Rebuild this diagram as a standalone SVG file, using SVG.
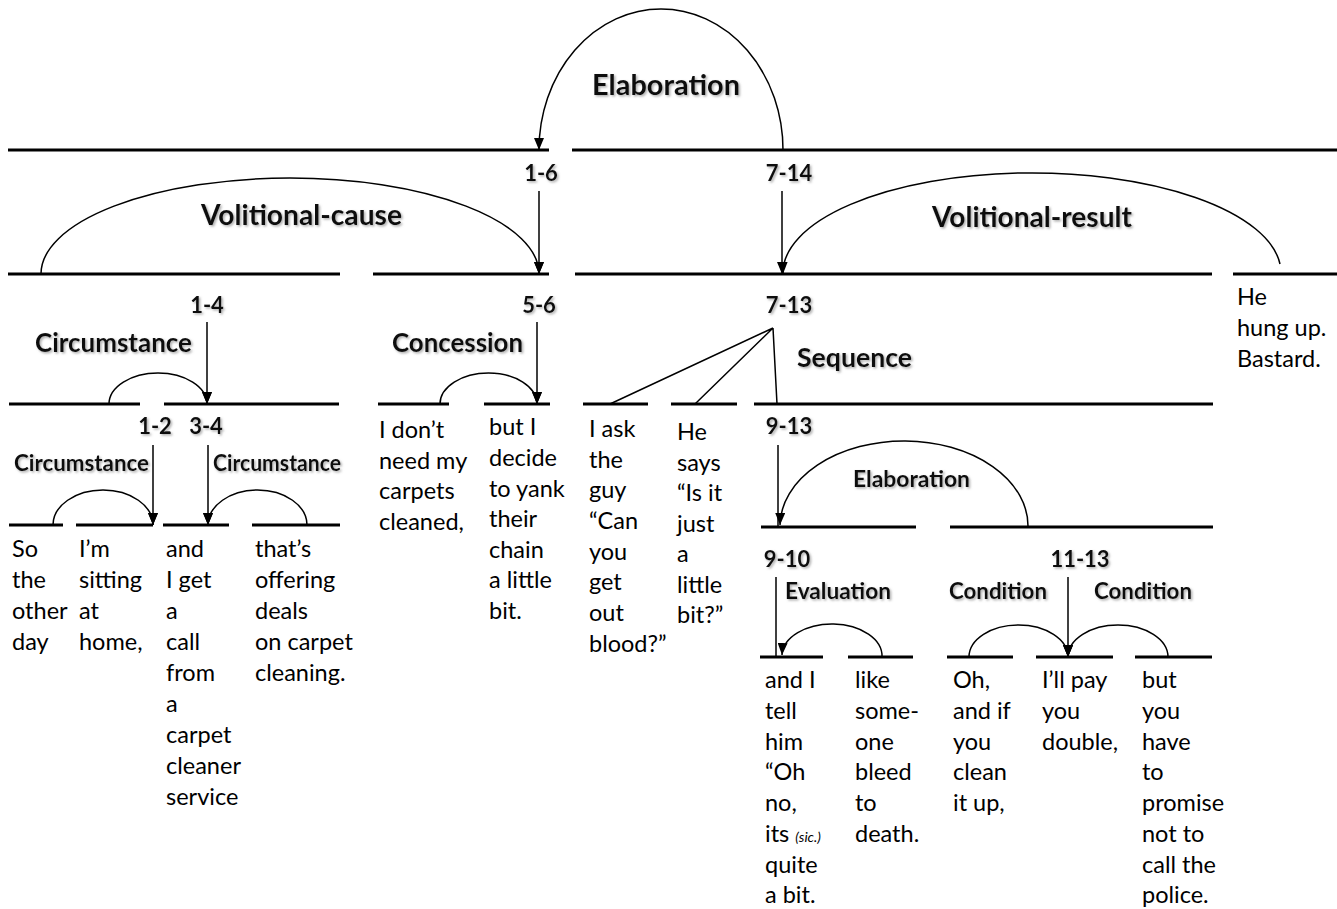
<svg xmlns="http://www.w3.org/2000/svg" width="1337" height="909" viewBox="0 0 1337 909">
<defs>
<marker id="ah" markerUnits="userSpaceOnUse" markerWidth="12" markerHeight="10" refX="12" refY="5" orient="auto" viewBox="0 0 12 10">
<path d="M0,0 L12,5 L0,10 z" fill="#000"/>
</marker>
<filter id="sh" x="-10%" y="-30%" width="130%" height="170%">
<feDropShadow dx="1.5" dy="1.5" stdDeviation="1" flood-color="#777" flood-opacity="0.6"/>
</filter>
<style>
.ln{stroke:#000;stroke-width:3;fill:none}
.arc{stroke:#000;stroke-width:1.5;fill:none}
.arr{marker-end:url(#ah)}
.lbl{font-family:Lato,"Liberation Sans",sans-serif;font-weight:bold;fill:#111;filter:url(#sh)}
.big{font-size:28px}
.mid{font-size:26px}
.sm{font-size:22px}
.num{font-size:22px;text-anchor:middle}
.txt{font-family:Lato,"Liberation Sans",sans-serif;font-size:23.5px;fill:#000}
.sic{font-size:14px;font-style:italic}
</style>
</defs>
<rect width="1337" height="909" fill="#fff"/>

<g id="connectors">
<path class="ln" d="M8,150H549M572,150H1337"/>
<path class="ln" d="M8,274H340M373,274H549M575,274H1212M1233,274H1337"/>
<path class="ln" d="M9,404H140M164,404H339M378,404H449M484,404H550M583,404H648M671,404H737M754,404H1213"/>
<path class="ln" d="M9,525H63M76,525H153M163,525H229M252,525H340"/>
<path class="ln" d="M761,527H916M950,527H1213"/>
<path class="ln" d="M760,657H823M848,657H913M947,657H1013M1036,657H1113M1135,657H1212"/>
<path class="arc arr" d="M783,150 A122,141 0 0 0 539,150"/>
<path class="arc arr" d="M41,274 A249,96 0 0 1 539,274"/>
<path class="arc arr" d="M1280,264 A249,100 0 0 0 783,274"/>
<path class="arc arr" d="M109,404 A49,31 0 0 1 207,404"/>
<path class="arc arr" d="M440,404 A48.5,31 0 0 1 537,404"/>
<path class="arc arr" d="M1028,527 A124,85 0 0 0 780,525"/>
<path class="arc arr" d="M53,525 A50,35 0 0 1 153,525"/>
<path class="arc arr" d="M307,525 A49.5,35 0 0 0 208,525"/>
<path class="arc arr" d="M882,657 A50,32 0 0 0 782,655"/>
<path class="arc arr" d="M969,657 A49.5,32 0 0 1 1068,657"/>
<path class="arc arr" d="M1168,657 A50,32 0 0 0 1068,657"/>
<path class="arc arr" d="M539,191V274"/>
<path class="arc arr" d="M782,191V274"/>
<path class="arc arr" d="M207,322V404"/>
<path class="arc arr" d="M537,322V404"/>
<path class="arc arr" d="M153,445V525"/>
<path class="arc arr" d="M208,445V525"/>
<path class="arc" d="M778,445V527"/>
<path class="arc" d="M776,577V657"/>
<path class="arc arr" d="M1068,577V657"/>
<path class="arc" d="M773,328L610,404M773,328L695,404M773,328L777,404"/>
</g>

<g id="rel-elaboration-top"><text class="lbl big" x="592" y="95" textLength="148" lengthAdjust="spacingAndGlyphs">Elaboration</text></g>
<g id="span-1-6"><text class="lbl num" x="541" y="181">1-6</text></g>
<g id="span-7-14"><text class="lbl num" x="789" y="181">7-14</text></g>
<g id="rel-volitional-cause"><text class="lbl big" x="201" y="225" textLength="201" lengthAdjust="spacingAndGlyphs">Volitional-cause</text></g>
<g id="rel-volitional-result"><text class="lbl big" x="932" y="227" textLength="200" lengthAdjust="spacingAndGlyphs">Volitional-result</text></g>

<g id="span-1-4"><text class="lbl num" x="207" y="313">1-4</text></g>
<g id="span-5-6"><text class="lbl num" x="539" y="313">5-6</text></g>
<g id="span-7-13"><text class="lbl num" x="789" y="313">7-13</text></g>
<g id="rel-circumstance-1"><text class="lbl mid" x="35" y="352" textLength="157" lengthAdjust="spacingAndGlyphs">Circumstance</text></g>
<g id="rel-concession"><text class="lbl mid" x="392" y="352" textLength="131" lengthAdjust="spacingAndGlyphs">Concession</text></g>
<g id="rel-sequence"><text class="lbl mid" x="797" y="367" textLength="115" lengthAdjust="spacingAndGlyphs">Sequence</text></g>
<g id="unit-14"><text class="txt" x="1237"><tspan x="1237" y="305">He</tspan><tspan x="1237" y="336">hung up.</tspan><tspan x="1237" y="367">Bastard.</tspan></text></g>

<g id="span-1-2"><text class="lbl num" x="155" y="434">1-2</text></g>
<g id="span-3-4"><text class="lbl num" x="206" y="434">3-4</text></g>
<g id="rel-circumstance-2"><text class="lbl sm" x="14" y="471" textLength="135" lengthAdjust="spacingAndGlyphs">Circumstance</text></g>
<g id="rel-circumstance-3"><text class="lbl sm" x="213" y="471" textLength="128" lengthAdjust="spacingAndGlyphs">Circumstance</text></g>
<g id="span-9-13"><text class="lbl num" x="789" y="434">9-13</text></g>
<g id="rel-elaboration-2"><text class="lbl sm" x="853" y="487" textLength="117" lengthAdjust="spacingAndGlyphs">Elaboration</text></g>

<g id="unit-1"><text class="txt"><tspan x="12" y="557">So</tspan><tspan x="12" y="588">the</tspan><tspan x="12" y="619">other</tspan><tspan x="12" y="650">day</tspan></text></g>
<g id="unit-2"><text class="txt"><tspan x="79" y="557">I’m</tspan><tspan x="79" y="588">sitting</tspan><tspan x="79" y="619">at</tspan><tspan x="79" y="650">home,</tspan></text></g>
<g id="unit-3"><text class="txt"><tspan x="166" y="557">and</tspan><tspan x="166" y="588">I get</tspan><tspan x="166" y="619">a</tspan><tspan x="166" y="650">call</tspan><tspan x="166" y="681">from</tspan><tspan x="166" y="712">a</tspan><tspan x="166" y="743">carpet</tspan><tspan x="166" y="774">cleaner</tspan><tspan x="166" y="805">service</tspan></text></g>
<g id="unit-4"><text class="txt"><tspan x="255" y="557">that’s</tspan><tspan x="255" y="588">offering</tspan><tspan x="255" y="619">deals</tspan><tspan x="255" y="650">on carpet</tspan><tspan x="255" y="681">cleaning.</tspan></text></g>
<g id="unit-5"><text class="txt"><tspan x="379" y="438">I don’t</tspan><tspan x="379" y="469">need my</tspan><tspan x="379" y="499">carpets</tspan><tspan x="379" y="530">cleaned,</tspan></text></g>
<g id="unit-6"><text class="txt"><tspan x="489" y="435">but I</tspan><tspan x="489" y="466">decide</tspan><tspan x="489" y="497">to yank</tspan><tspan x="489" y="527">their</tspan><tspan x="489" y="558">chain</tspan><tspan x="489" y="588">a little</tspan><tspan x="489" y="619">bit.</tspan></text></g>
<g id="unit-7"><text class="txt"><tspan x="589" y="437">I ask</tspan><tspan x="589" y="468">the</tspan><tspan x="589" y="498">guy</tspan><tspan x="589" y="529">“Can</tspan><tspan x="589" y="560">you</tspan><tspan x="589" y="590">get</tspan><tspan x="589" y="621">out</tspan><tspan x="589" y="652">blood?”</tspan></text></g>
<g id="unit-8"><text class="txt"><tspan x="677" y="440">He</tspan><tspan x="677" y="471">says</tspan><tspan x="677" y="501">“Is it</tspan><tspan x="677" y="532">just</tspan><tspan x="677" y="562">a</tspan><tspan x="677" y="593">little</tspan><tspan x="677" y="623">bit?”</tspan></text></g>

<g id="span-9-10"><text class="lbl num" x="787" y="567">9-10</text></g>
<g id="span-11-13"><text class="lbl num" x="1080" y="567">11-13</text></g>
<g id="rel-evaluation"><text class="lbl sm" x="785" y="599" textLength="106" lengthAdjust="spacingAndGlyphs">Evaluation</text></g>
<g id="rel-condition-1"><text class="lbl sm" x="949" y="599" textLength="98" lengthAdjust="spacingAndGlyphs">Condition</text></g>
<g id="rel-condition-2"><text class="lbl sm" x="1094" y="599" textLength="98" lengthAdjust="spacingAndGlyphs">Condition</text></g>

<g id="unit-9"><text class="txt"><tspan x="765" y="688">and I</tspan><tspan x="765" y="719">tell</tspan><tspan x="765" y="750">him</tspan><tspan x="765" y="780">“Oh</tspan><tspan x="765" y="811">no,</tspan><tspan x="765" y="842">its <tspan class="sic">(sic.)</tspan></tspan><tspan x="765" y="873">quite</tspan><tspan x="765" y="903">a bit.</tspan></text></g>
<g id="unit-10"><text class="txt"><tspan x="855" y="688">like</tspan><tspan x="855" y="719">some-</tspan><tspan x="855" y="750">one</tspan><tspan x="855" y="780">bleed</tspan><tspan x="855" y="811">to</tspan><tspan x="855" y="842">death.</tspan></text></g>
<g id="unit-11"><text class="txt"><tspan x="953" y="688">Oh,</tspan><tspan x="953" y="719">and if</tspan><tspan x="953" y="750">you</tspan><tspan x="953" y="780">clean</tspan><tspan x="953" y="811">it up,</tspan></text></g>
<g id="unit-12"><text class="txt"><tspan x="1042" y="688">I’ll pay</tspan><tspan x="1042" y="719">you</tspan><tspan x="1042" y="750">double,</tspan></text></g>
<g id="unit-13"><text class="txt"><tspan x="1142" y="688">but</tspan><tspan x="1142" y="719">you</tspan><tspan x="1142" y="750">have</tspan><tspan x="1142" y="780">to</tspan><tspan x="1142" y="811">promise</tspan><tspan x="1142" y="842">not to</tspan><tspan x="1142" y="873">call the</tspan><tspan x="1142" y="903">police.</tspan></text></g>
</svg>
